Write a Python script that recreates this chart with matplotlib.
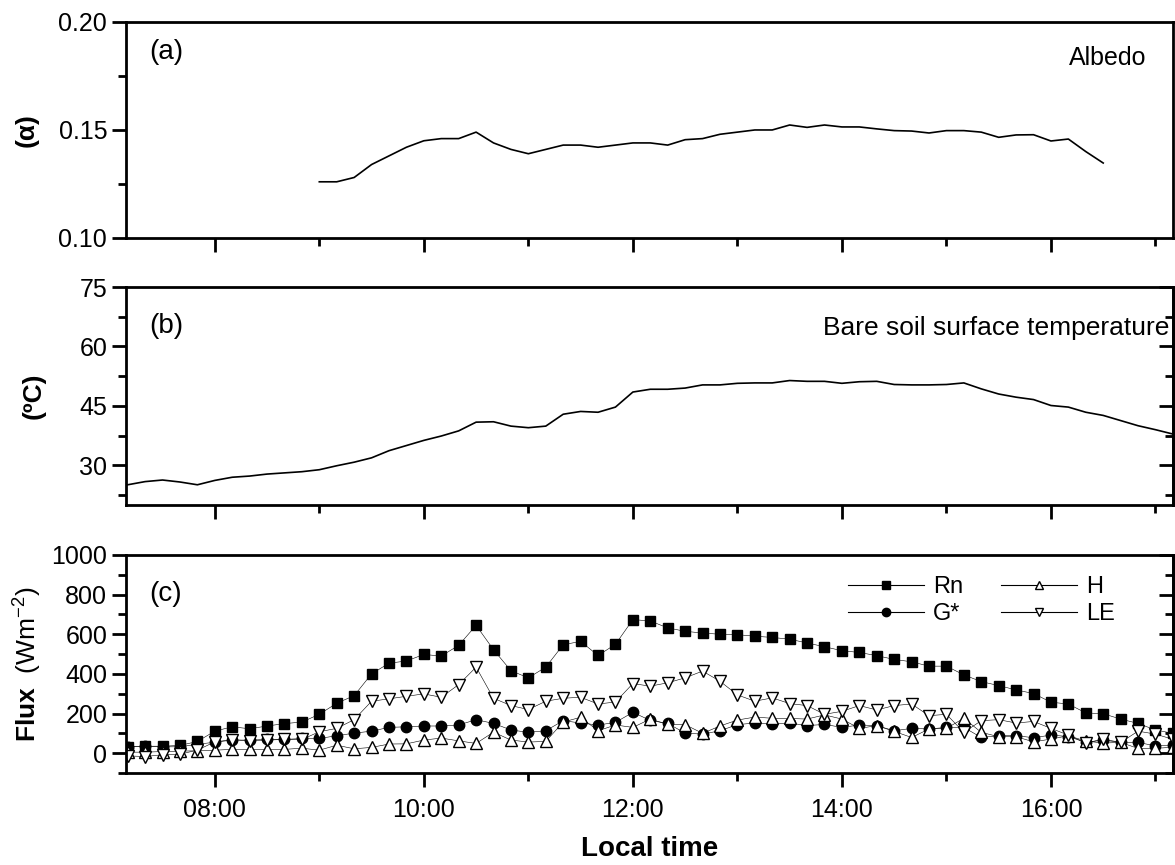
import numpy as np
import matplotlib
matplotlib.use("Agg")
import matplotlib.pyplot as plt
from matplotlib.ticker import MultipleLocator, FuncFormatter
from matplotlib.lines import Line2D

plt.rcParams["font.family"] = ["Liberation Sans", "DejaVu Sans"]
plt.rcParams["mathtext.fontset"] = "custom"
plt.rcParams["mathtext.rm"] = "Liberation Sans"
plt.rcParams["mathtext.bf"] = "Liberation Sans:bold"

# sample times: every 10 min, in minutes after midnight
flux_minutes = list(range(7 * 60 + 10, 17 * 60 + 11, 10))      # 07:10 .. 17:10
albedo_minutes = list(range(9 * 60, 16 * 60 + 31, 10))          # 09:00 .. 16:30
temp_minutes = flux_minutes

albedo = [0.126, 0.126, 0.128, 0.134, 0.138, 0.142, 0.145, 0.146, 0.146, 0.149,
          0.144, 0.141, 0.139, 0.141, 0.143, 0.143, 0.142, 0.143, 0.144, 0.144,
          0.143, 0.1455, 0.146, 0.148, 0.149, 0.150, 0.150, 0.1523, 0.1512, 0.1523,
          0.1514, 0.1514, 0.1505, 0.1497, 0.1495, 0.1486, 0.1497, 0.1497, 0.149, 0.1466,
          0.1477, 0.1478, 0.1449, 0.1458, 0.140, 0.1347]

soil_temp = [25.1, 25.9, 26.3, 25.8, 25.1, 26.2, 27.0, 27.3, 27.8, 28.1,
             28.4, 28.9, 29.9, 30.8, 31.9, 33.7, 35.0, 36.3, 37.4, 38.7,
             40.9, 41.0, 39.9, 39.5, 39.9, 42.9, 43.6, 43.4, 44.7, 48.5,
             49.2, 49.2, 49.5, 50.3, 50.3, 50.7, 50.8, 50.8, 51.4, 51.2,
             51.2, 50.7, 51.1, 51.2, 50.4, 50.3, 50.3, 50.4, 50.8, 49.3,
             48.0, 47.2, 46.6, 45.1, 44.7, 43.4, 42.6, 41.3, 40.0, 39.0,
             37.9]

rn = [32, 35, 35, 39, 59, 111, 133, 123, 137, 149,
      157, 196, 252, 290, 400, 454, 465, 498, 490, 544,
      645, 522, 416, 380, 434, 547, 564, 493, 549, 674,
      667, 632, 615, 606, 600, 598, 590, 584, 575, 556,
      537, 517, 508, 492, 473, 461, 439, 439, 395, 361,
      341, 319, 301, 257, 248, 203, 199, 172, 150, 117,
      100]

g_star = [32, 35, 32, 32, 45, 55, 66, 66, 69, 69,
          74, 74, 88, 101, 111, 130, 133, 137, 137, 142,
          169, 150, 117, 105, 113, 164, 152, 142, 155, 206,
          165, 150, 101, 96, 113, 144, 152, 147, 152, 139,
          145, 130, 142, 139, 113, 125, 122, 130, 130, 79,
          88, 88, 78, 91, 84, 54, 66, 54, 54, 37,
          40]

h_flux = [5, 5, 8, 10, 12, 15, 19, 19, 19, 19,
          25, 15, 40, 22, 29, 46, 47, 66, 76, 62,
          49, 106, 66, 56, 59, 157, 181, 113, 142, 130,
          172, 145, 144, 100, 137, 167, 182, 176, 175, 172,
          193, 172, 125, 139, 110, 79, 122, 125, 176, 105,
          83, 83, 57, 71, 88, 61, 51, 54, 24, 24,
          30]

le_flux = [-14, -17, -8, -5, 15, 57, 68, 62, 66, 69,
           69, 108, 125, 169, 262, 274, 287, 299, 282, 346,
           434, 277, 240, 220, 262, 277, 282, 248, 258, 351,
           338, 355, 380, 414, 363, 294, 262, 279, 250, 240,
           196, 211, 240, 218, 240, 248, 189, 196, 105, 164,
           169, 152, 160, 125, 91, 51, 71, 54, 111, 96,
           70]

t_flux = np.array(flux_minutes) / 60.0
t_alb = np.array(albedo_minutes) / 60.0
t_temp = np.array(temp_minutes) / 60.0

fig = plt.figure(figsize=(11.75, 8.65), dpi=100)
ax_a = fig.add_axes([0.1072, 0.7249, 0.891, 0.2497])
ax_b = fig.add_axes([0.1072, 0.4162, 0.891, 0.252])
ax_c = fig.add_axes([0.1072, 0.1064, 0.891, 0.252])

xlim = (7 + 9 / 60, 17 + 10 / 60)

def hhmm(x, pos):
    h = int(round(x * 60)) // 60
    m = int(round(x * 60)) % 60
    return f"{h:02d}:{m:02d}"

for ax in (ax_a, ax_b, ax_c):
    ax.set_xlim(*xlim)
    ax.xaxis.set_major_locator(MultipleLocator(2))
    ax.xaxis.set_minor_locator(MultipleLocator(1))
    for s in ax.spines.values():
        s.set_linewidth(2.0)
    ax.tick_params(axis="both", which="major", direction="out", length=10, width=2, labelsize=18)
    ax.tick_params(axis="both", which="minor", direction="out", length=6, width=2)
    ax.tick_params(axis="x", which="both", top=False)

def inner_right_ticks(ax, major, minor):
    # right-hand ticks point inwards, without labels
    sec = ax.secondary_yaxis("right")
    sec.yaxis.set_major_locator(MultipleLocator(major))
    sec.yaxis.set_minor_locator(MultipleLocator(minor))
    sec.tick_params(which="major", direction="in", length=10, width=2, labelright=False)
    sec.tick_params(which="minor", direction="in", length=6, width=2)
    sec.spines["right"].set_linewidth(2.0)

# (a) albedo
ax_a.plot(t_alb, albedo, color="black", lw=1.2)
ax_a.set_ylim(0.10, 0.20)
ax_a.yaxis.set_major_locator(MultipleLocator(0.05))
ax_a.yaxis.set_minor_locator(MultipleLocator(0.025))
ax_a.yaxis.set_major_formatter(FuncFormatter(lambda v, p: f"{v:.2f}"))
ax_a.tick_params(axis="x", labelbottom=False)
ax_a.set_ylabel("(α)", fontsize=19, fontweight="bold", labelpad=14)
ax_a.text(0.022, 0.83, "(a)", transform=ax_a.transAxes, fontsize=20)
ax_a.text(0.975, 0.80, "Albedo", transform=ax_a.transAxes, fontsize=18, ha="right")

# (b) soil surface temperature
ax_b.plot(t_temp, soil_temp, color="black", lw=1.2)
ax_b.set_ylim(20, 75)
ax_b.yaxis.set_major_locator(MultipleLocator(15))
ax_b.yaxis.set_minor_locator(MultipleLocator(7.5))
ax_b.tick_params(axis="x", labelbottom=False)
inner_right_ticks(ax_b, 15, 7.5)
ax_b.set_ylabel("(ºC)", fontsize=19, fontweight="bold", labelpad=24)
ax_b.text(0.022, 0.79, "(b)", transform=ax_b.transAxes, fontsize=20)
ax_b.text(0.997, 0.78, "Bare soil surface temperature", transform=ax_b.transAxes,
          fontsize=19, ha="right")

# (c) energy fluxes
ms = 7.5
ax_c.plot(t_flux, rn, color="black", lw=0.4, marker="s", ms=ms, mfc="black", mec="black")
ax_c.plot(t_flux, g_star, color="black", lw=0.4, marker="o", ms=ms, mfc="black", mec="black")
ax_c.plot(t_flux, h_flux, color="black", lw=0.4, marker="^", ms=ms + 1, mfc="white", mec="black", mew=1.0)
ax_c.plot(t_flux, le_flux, color="black", lw=0.4, marker="v", ms=ms + 1, mfc="white", mec="black", mew=1.0)
ax_c.set_ylim(-100, 1000)
ax_c.yaxis.set_major_locator(MultipleLocator(200))
ax_c.yaxis.set_minor_locator(MultipleLocator(100))
ax_c.xaxis.set_major_formatter(FuncFormatter(hhmm))
inner_right_ticks(ax_c, 200, 100)
ax_c.tick_params(axis="x", pad=8)
ax_c.set_ylabel(r"$\mathbf{Flux}$  (Wm$^{-2}$)", fontsize=19, labelpad=6)
ax_c.set_xlabel("Local time", fontsize=20, fontweight="bold", labelpad=10)
ax_c.text(0.022, 0.79, "(c)", transform=ax_c.transAxes, fontsize=20)

handles = [
    Line2D([], [], color="black", lw=0.8, marker="s", ms=6, mfc="black"),
    Line2D([], [], color="black", lw=0.8, marker="o", ms=6, mfc="black"),
    Line2D([], [], color="black", lw=0.8, marker="^", ms=6, mfc="white"),
    Line2D([], [], color="black", lw=0.8, marker="v", ms=6, mfc="white"),
]
ax_c.legend(handles, ["Rn", "G*", "H", "LE"], ncol=2, loc="upper right",
            bbox_to_anchor=(0.965, 1.0), frameon=False, fontsize=17,
            handlelength=3.2, columnspacing=1.6, labelspacing=0.2, handletextpad=0.4)

fig.savefig("out.png", dpi=100)
